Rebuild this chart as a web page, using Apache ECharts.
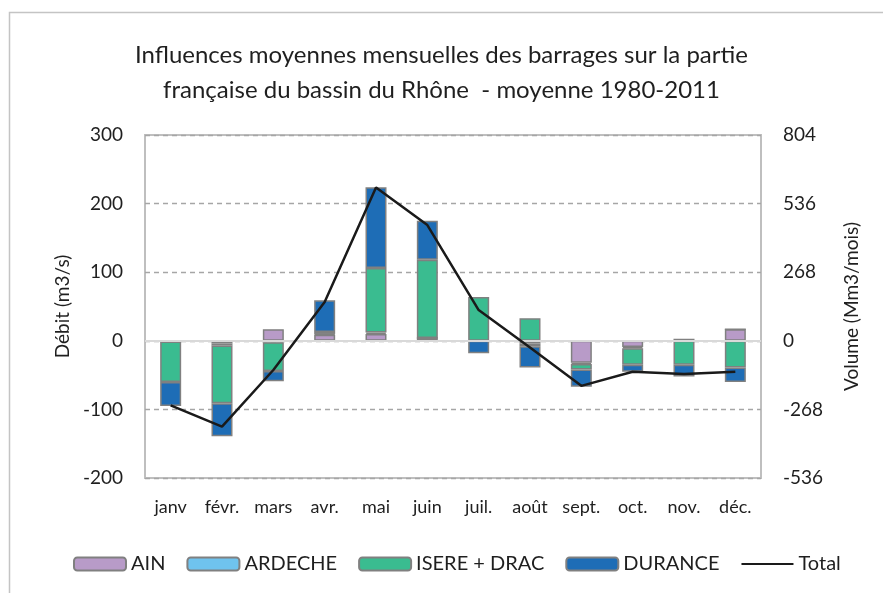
<!DOCTYPE html>
<html>
<head>
<meta charset="utf-8">
<script src="https://cdn.jsdelivr.net/npm/echarts@6/dist/echarts.min.js"></script>
<style>
  html, body { margin: 0; padding: 0; background: #fff; }
  #chart { width: 883px; height: 593px; }
</style>
</head>
<body>
<div id="chart"></div>
<script>
// données (m3/s)
const months = ['janv', 'févr.', 'mars', 'avr.', 'mai', 'juin', 'juil.', 'août', 'sept.', 'oct.', 'nov.', 'déc.']
const ain = [-1, -4, 17, 9, 10, 4, 0, -4, -32, -9, 2, 17]
const ardeche = [0, -3, -2, 1, 2, 0, 0, -4, -2, -2, 0, 0]
const isereDrac = [-59, -84, -42, 3, 94, 114, 64, 33, -8, -24, -35, -39]
const durance = [-35, -48, -15, 46, 118, 57, -18, -31, -25, -10, -17, -21]
// total en Mm3/mois (axe de droite)
const total = [-252, -335, -114, 152, 599, 452, 120, -26, -176, -121, -130, -121]

const leftTicks = { min: -200, max: 300, interval: 100 }
const rightTicks = { min: -536, max: 804, interval: 268 }

const font = 'Lato, "Open Sans", sans-serif'
const textColor = '#1f1f1f'
const labelSize = 19

const chart = echarts.init(document.getElementById('chart'))

const barSeries = (name, data, color) => ({
  name,
  type: 'bar',
  stack: 'barrages',
  data,
  barWidth: 21,
  itemStyle: {
    color,
    borderColor: '#808080',
    borderWidth: 1.5
  }
})

const option = {
  animation: false,
  textStyle: { fontFamily: font },
  graphic: [{
    type: 'rect',
    shape: { x: 9.5, y: 12.5, width: 900, height: 600 },
    style: { fill: 'none', stroke: '#c4c4c4', lineWidth: 1.5 },
    silent: true
  }],
  title: {
    text: 'Influences moyennes mensuelles des barrages sur la partie\nfrançaise du bassin du Rhône  - moyenne 1980-2011',
    left: 'center',
    top: 33,
    textStyle: {
      fontFamily: font,
      fontSize: 24,
      fontWeight: 'normal',
      color: textColor,
      lineHeight: 35
    }
  },
  legend: {
    left: 68,
    top: 549,
    itemWidth: 52,
    itemHeight: 13,
    itemGap: 21,
    textStyle: { fontFamily: font, fontSize: 20, color: textColor },
    data: ['AIN', 'ARDECHE', 'ISERE + DRAC', 'DURANCE', { name: 'Total', itemStyle: { opacity: 0 } }]
  },
  grid: {
    left: 145,
    right: 122,
    top: 135,
    bottom: 115,
    show: true,
    borderColor: '#bfbfbf',
    borderWidth: 2,
    containLabel: false
  },
  xAxis: {
    type: 'category',
    data: months,
    axisLine: { show: false },
    axisTick: { show: false },
    axisLabel: { interval: 0, margin: 20, fontSize: 18, color: textColor, fontFamily: font }
  },
  yAxis: [{
    type: 'value',
    ...leftTicks,
    name: 'Débit (m3/s)',
    nameLocation: 'middle',
    nameGap: 37,
    nameTextStyle: { fontSize: labelSize, color: textColor, fontFamily: font },
    axisLine: { show: false },
    axisTick: { show: false },
    axisLabel: { margin: 22, fontSize: labelSize, color: textColor, fontFamily: font },
    splitLine: { lineStyle: { color: '#a6a6a6', type: [5, 4], width: 1.3 } }
  }, {
    type: 'value',
    ...rightTicks,
    name: 'Volume (Mm3/mois)',
    nameLocation: 'middle',
    nameGap: 81,
    nameTextStyle: { fontSize: labelSize, color: textColor, fontFamily: font },
    axisLine: { show: false },
    axisTick: { show: false },
    axisLabel: { margin: 22, fontSize: labelSize, color: textColor, fontFamily: font },
    splitLine: { show: false }
  }],
  series: [
    {
      ...barSeries('AIN', ain, '#b89bc8'),
      markLine: {
        silent: true,
        symbol: 'none',
        label: { show: false },
        lineStyle: { color: '#d9d9d9', type: 'solid', width: 2 },
        data: [{ yAxis: 0 }]
      }
    },
    barSeries('ARDECHE', ardeche, '#6fc3ee'),
    barSeries('ISERE + DRAC', isereDrac, '#3abc90'),
    barSeries('DURANCE', durance, '#1e6db6'),
    {
      name: 'Total',
      type: 'line',
      yAxisIndex: 1,
      data: total,
      symbol: 'none',
      lineStyle: { color: '#1a1a1a', width: 2.5 },
      itemStyle: { color: '#1a1a1a' },
      z: 5
    }
  ]
}

chart.setOption(option)
</script>
</body>
</html>
